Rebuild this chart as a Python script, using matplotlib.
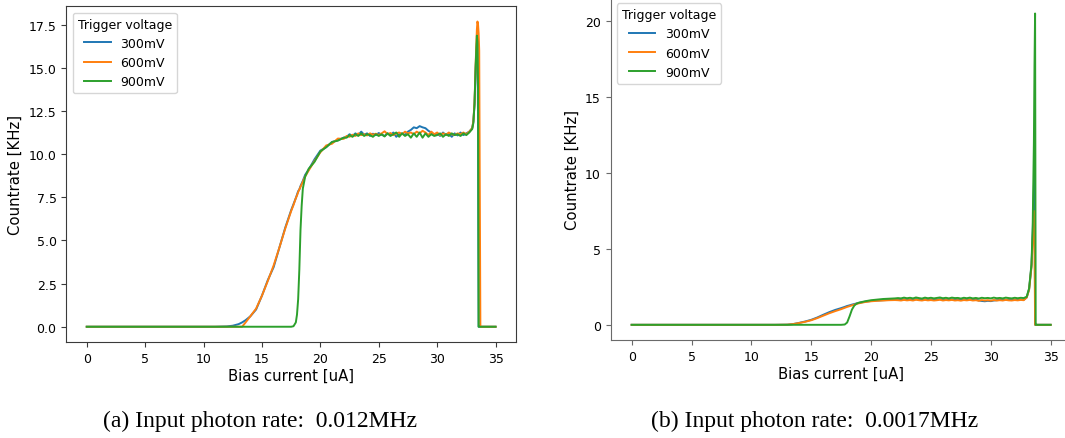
import matplotlib
matplotlib.use("Agg")
import matplotlib.pyplot as plt

# ---------------- data: panel (a) ----------------
x_a = [0, 5, 10, 11, 12, 12.5, 13, 13.3, 13.6, 14, 14.5, 15, 15.5, 16, 16.5, 17, 17.5,
       17.7, 17.9, 18.0, 18.1, 18.2, 18.3, 18.4, 18.5, 18.7, 19, 19.5, 20, 20.5, 21, 21.5, 22,
       22.25, 22.5, 22.75, 23.0, 23.25, 23.5, 23.75, 24.0, 24.25, 24.5, 24.75, 25.0,
       25.25, 25.5, 25.75, 26.0, 26.25, 26.5, 26.75, 27.0, 27.25, 27.5, 27.75, 28.0,
       28.25, 28.5, 28.75, 29.0, 29.25, 29.5, 29.75, 30.0, 30.25, 30.5, 30.75, 31.0,
       31.25, 31.5, 31.75, 32.0, 32.25, 32.5, 32.75,
       33.0, 33.1, 33.2, 33.3, 33.4, 33.45, 33.5, 33.55, 33.6, 33.65, 33.7, 34, 35]

a_300 = [0, 0, 0, 0.0, 0.02, 0.06, 0.15, 0.25, 0.38, 0.6, 1.0, 1.8, 2.7, 3.45, 4.6, 5.75, 6.75,
         7.1, 7.45, 7.65, 7.85, 7.95, 8.15, 8.3, 8.45, 8.8, 9.1, 9.7, 10.2, 10.4, 10.7, 10.8, 10.95,
         11.0, 11.15, 11.05, 11.2, 11.1, 11.3, 11.12, 11.2, 11.05, 11.18, 11.1, 11.22,
         11.12, 11.05, 11.2, 11.1, 11.25, 11.0, 11.15, 11.2, 11.1, 11.3, 11.4, 11.55,
         11.5, 11.62, 11.55, 11.5, 11.35, 11.25, 11.1, 11.2, 11.05, 11.25, 11.1, 11.18,
         11.0, 11.2, 11.08, 11.25, 11.1, 11.2, 11.3,
         11.5, 11.9, 12.9, 15.0, 16.4, 16.6, 12.0, 0, 0, 0, 0, 0, 0]

a_600 = [0, 0, 0, 0, 0, 0, 0, 0, 0.25, 0.6, 1.05, 1.8, 2.65, 3.55, 4.6, 5.7, 6.7,
         7.05, 7.45, 7.6, 7.8, 7.95, 8.1, 8.25, 8.4, 8.7, 9.05, 9.6, 10.1, 10.5, 10.6, 10.9, 10.88,
         11.05, 11.0, 11.12, 11.05, 11.2, 11.1, 11.15, 11.08, 11.2, 11.12, 11.18, 11.1,
         11.2, 11.32, 11.15, 11.22, 11.1, 11.2, 11.25, 11.15, 11.3, 11.2, 11.25, 11.15,
         11.3, 11.2, 11.35, 11.25, 11.1, 11.3, 11.15, 11.25, 11.1, 11.2, 11.12, 11.25,
         11.15, 11.1, 11.2, 11.15, 11.25, 11.15, 11.3,
         11.5, 11.9, 13.0, 15.3, 17.2, 17.68, 17.5, 17.0, 16.0, 8.0, 0, 0, 0]

a_900 = [0, 0, 0, 0, 0, 0, 0, 0, 0, 0, 0, 0, 0, 0, 0, 0, 0,
         0.03, 0.25, 0.7, 1.6, 3.3, 5.6, 7.0, 8.0, 8.7, 9.15, 9.55, 10.15, 10.4, 10.7, 10.78, 10.95,
         10.95, 11.1, 11.0, 11.15, 11.05, 11.2, 11.05, 11.15, 11.1, 11.0, 11.15, 11.05,
         11.15, 11.02, 11.2, 11.05, 11.15, 11.25, 11.0, 11.2, 11.05, 11.15, 10.95, 11.2,
         11.0, 11.25, 10.95, 11.2, 11.0, 11.15, 11.05, 11.1, 11.2, 11.0, 11.15, 11.05,
         11.2, 11.1, 11.15, 11.05, 11.2, 11.1, 11.25,
         11.45, 11.8, 12.9, 15.2, 16.86, 16.5, 14.0, 0, 0, 0, 0, 0, 0]

# ---------------- data: panel (b) ----------------
x_b = [0, 5, 10, 12, 13, 13.5, 14, 14.5, 15, 15.5, 16, 16.5, 17, 17.5, 17.8, 18.0, 18.2,
       18.4, 18.6, 18.8, 19, 19.5, 20, 20.5, 21, 21.5, 22,
       22.25, 22.5, 22.75, 23.0, 23.25, 23.5, 23.75, 24.0, 24.25, 24.5, 24.75, 25.0,
       25.25, 25.5, 25.75, 26.0, 26.25, 26.5, 26.75, 27.0, 27.25, 27.5, 27.75, 28.0,
       28.25, 28.5, 28.75, 29.0, 29.25, 29.5, 29.75, 30.0, 30.25, 30.5, 30.75, 31.0,
       31.25, 31.5, 31.75, 32.0, 32.25, 32.5, 32.75,
       33.0, 33.2, 33.4, 33.5, 33.6, 33.65, 33.7, 33.75, 33.8, 34, 35]

b_300 = [0, 0, 0, 0, 0.01, 0.05, 0.13, 0.22, 0.33, 0.48, 0.66, 0.83, 0.98, 1.1, 1.18, 1.24, 1.28,
         1.33, 1.37, 1.41, 1.45, 1.52, 1.57, 1.6, 1.62, 1.64, 1.65,
         1.66, 1.64, 1.68, 1.65, 1.67, 1.64, 1.69, 1.66, 1.63, 1.68, 1.65, 1.67,
         1.64, 1.66, 1.69, 1.65, 1.67, 1.64, 1.68, 1.65, 1.66, 1.63, 1.67, 1.65,
         1.68, 1.64, 1.66, 1.6, 1.57, 1.55, 1.58, 1.56, 1.6, 1.62, 1.64, 1.63,
         1.66, 1.64, 1.63, 1.66, 1.64, 1.67, 1.65,
         1.8, 2.35, 3.9, 6.0, 9.0, 11.0, 0, 0, 0, 0, 0]

b_600 = [0, 0, 0, 0, 0.01, 0.05, 0.12, 0.2, 0.3, 0.44, 0.6, 0.76, 0.9, 1.03, 1.12, 1.18, 1.23,
         1.28, 1.33, 1.38, 1.42, 1.5, 1.55, 1.58, 1.6, 1.62, 1.63,
         1.62, 1.6, 1.64, 1.61, 1.63, 1.6, 1.65, 1.62, 1.6, 1.64, 1.61, 1.63,
         1.6, 1.62, 1.65, 1.6, 1.63, 1.61, 1.64, 1.6, 1.62, 1.59, 1.63, 1.61,
         1.64, 1.6, 1.62, 1.58, 1.63, 1.6, 1.62, 1.59, 1.63, 1.6, 1.62, 1.6,
         1.64, 1.61, 1.6, 1.63, 1.61, 1.64, 1.62,
         1.8, 2.3, 3.8, 5.5, 7.5, 6.0, 0, 0, 0, 0, 0]

b_900 = [0, 0, 0, 0, 0, 0, 0, 0, 0, 0, 0, 0, 0, 0, 0.02, 0.15, 0.55,
         1.0, 1.27, 1.4, 1.46, 1.55, 1.62, 1.66, 1.7, 1.72, 1.74,
         1.76, 1.74, 1.79, 1.75, 1.78, 1.74, 1.8, 1.76, 1.73, 1.79, 1.75, 1.78,
         1.74, 1.77, 1.8, 1.75, 1.78, 1.74, 1.79, 1.76, 1.77, 1.73, 1.78, 1.75,
         1.79, 1.74, 1.77, 1.73, 1.78, 1.75, 1.77, 1.74, 1.79, 1.75, 1.77, 1.74,
         1.79, 1.76, 1.74, 1.78, 1.75, 1.78, 1.76,
         1.85, 2.4, 4.0, 6.5, 12.0, 17.0, 20.5, 0, 0, 0, 0]

labels = ["300mV", "600mV", "900mV"]
colors = ["#1f77b4", "#ff7f0e", "#2ca02c"]
legend_title = "Trigger voltage"
xlabel = "Bias current [uA]"
ylabel = "Countrate [KHz]"
xticks = [0, 5, 10, 15, 20, 25, 30, 35]
yticks_a = [0.0, 2.5, 5.0, 7.5, 10.0, 12.5, 15.0, 17.5]
yticks_b = [0, 5, 10, 15, 20]
caption_a = "(a) Input photon rate:  0.012MHz"
caption_b = "(b) Input photon rate:  0.0017MHz"

W, H = 1065, 439
fig = plt.figure(figsize=(W / 100, H / 100), dpi=100)

ax_a = fig.add_axes([66.3 / W, 1 - 343.0 / H, 449.7 / W, 335.7 / H])
ax_b = fig.add_axes([610.7 / W, 1 - 341.3 / H, 460.9 / W, 343.5 / H])

panels = [
    (ax_a, x_a, [a_300, a_600, a_900], yticks_a, "#3a3a3a"),
    (ax_b, x_b, [b_300, b_600, b_900], yticks_b, "#6a6a6a"),
]

for ax, xs, series, yt, spc in panels:
    for ys, lab, col in zip(series, labels, colors):
        ax.plot(xs, ys, color=col, lw=1.4, label=lab)
    ax.set_xticks(xticks)
    ax.set_yticks(yt)
    ax.tick_params(labelsize=9, width=0.8, length=3.5, color=spc)
    ax.set_xlabel(xlabel, fontsize=10.7, labelpad=2)
    ax.set_ylabel(ylabel, fontsize=10.7)
    for s in ax.spines.values():
        s.set_color(spc)
    leg = ax.legend(title=legend_title, loc="upper left", fontsize=9,
                    title_fontsize=9, handlelength=2.1)

ax_a.set_xlim(-1.75, 36.75)
ax_a.set_ylim(-0.884, 18.56)
ax_b.set_xlim(-1.75, 36.75)
ax_b.set_ylim(-1.02, 21.6)

fig.text(260 / W, 1 - 421 / H, caption_a, family="Liberation Serif", fontsize=17,
         ha="center", va="center")
fig.text(815 / W, 1 - 421 / H, caption_b, family="Liberation Serif", fontsize=17,
         ha="center", va="center")

fig.savefig("out.png", dpi=100)
